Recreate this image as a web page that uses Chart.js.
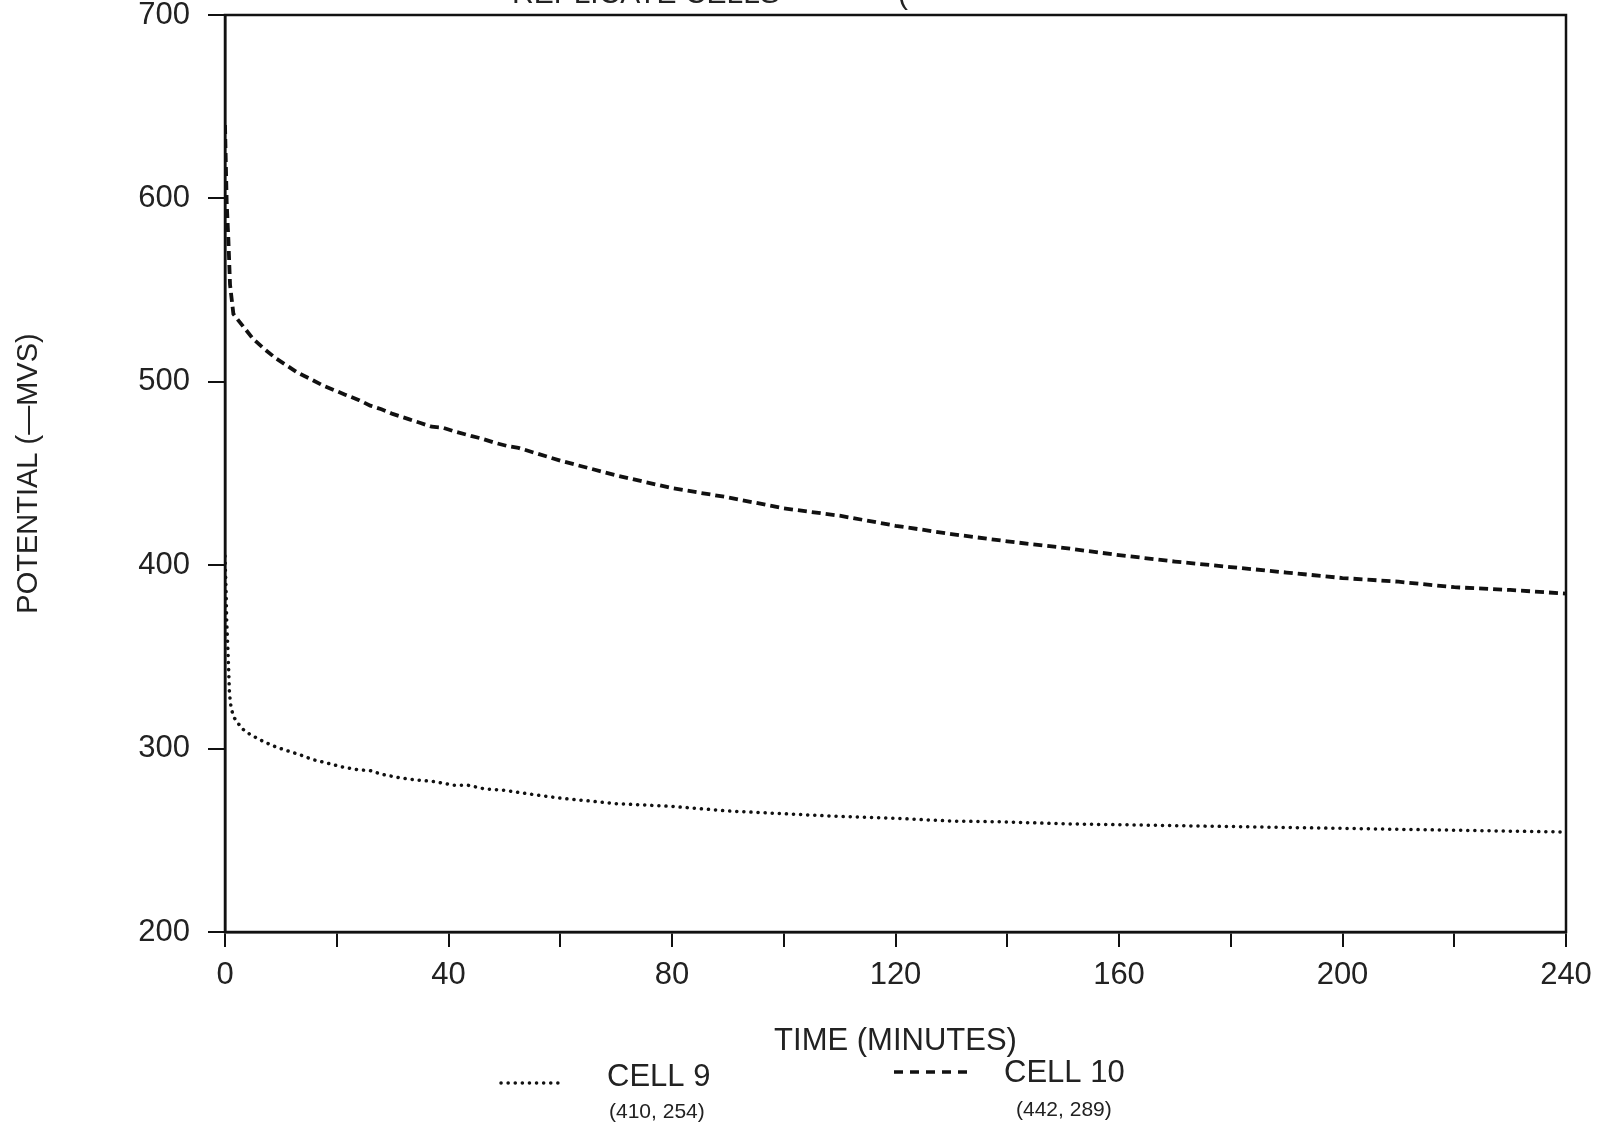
<!DOCTYPE html>
<html>
<head>
<meta charset="utf-8">
<script src="https://cdn.jsdelivr.net/npm/chart.js@4/dist/chart.umd.min.js"></script>
<style>
    html, body { margin: 0; padding: 0; background: #fff; }
    #wrap { width: 1606px; height: 1130px; }
</style>
</head>
<body>
<div id="wrap"><canvas id="potentialChart"></canvas></div>
<script>
// values (minutes, -mV)
const cell9Time = [0, 0.2, 0.3, 0.45, 0.6, 0.8, 1.1, 1.6, 3, 4.6, 6.8, 9, 11, 13.5, 15.7, 17.8, 21, 23.7, 26, 28, 31.4, 34, 37.5, 41, 43.5, 46.5, 50, 55, 60, 70, 80, 90, 100, 110, 120, 130, 140, 150, 160, 170, 180, 190, 200, 210, 220, 230, 240];
const cell9Potential = [405, 385, 370, 359, 348, 330, 322, 317, 311, 307.5, 304, 301, 299, 296.5, 294, 292.5, 290, 288.5, 288, 286, 284, 283, 282, 280, 280, 278, 277.3, 275, 273, 270, 268.5, 266, 264.5, 263, 262, 260.5, 260, 259, 258.5, 258, 257.5, 257, 256.5, 256, 255.5, 255, 254.5];

const cell10Time = [0, 0.3, 0.6, 0.9, 1.5, 2, 3.3, 5, 7, 9, 11, 13, 15, 17.5, 19.5, 21.5, 24, 26, 28, 30, 33, 35, 37, 39, 41, 44, 46, 48, 50.5, 52.5, 60, 70, 80, 90, 100, 110, 120, 130, 140, 150, 160, 170, 180, 190, 200, 210, 220, 230, 240];
const cell10Potential = [640, 598, 578, 553, 537, 535, 530, 523.5, 518, 513, 509, 505, 502, 498, 495.5, 493, 490, 487, 485, 482.5, 479.5, 477.5, 475.5, 475, 473, 470.5, 469, 467, 465, 464, 457, 449, 442, 437, 431, 427, 421.5, 417, 413, 409.5, 405.5, 402, 399, 396, 393, 391, 388, 386.5, 384.5];

const seriesNames = ['CELL 9', 'CELL 10'];
const seriesNotes = ['(410, 254)', '(442, 289)'];
const xTitle = 'TIME (MINUTES)';
const yTitle = 'POTENTIAL (\u2014MVS)';
const headTitle = 'REPLICATE CELLS';

const ink = '#111';
const textInk = '#222';
const labelFont = '"Liberation Sans", sans-serif';

function toPoints(xs, ys) {
    return xs.map((x, i) => ({ x: x, y: ys[i] }));
}

// frame, cut-off heading and the legend under the axis title
const extras = {
    id: 'extras',
    afterDraw(chart) {
        const ctx = chart.ctx;
        const a = chart.chartArea;
        ctx.save();
        ctx.strokeStyle = ink;
        ctx.lineWidth = 2.5;
        ctx.strokeRect(a.left, a.top, a.right - a.left, a.bottom - a.top);

        ctx.fillStyle = textInk;
        ctx.font = '30px ' + labelFont;
        ctx.textBaseline = 'alphabetic';
        ctx.fillText(headTitle, 512, 3);
        ctx.fillText('(', 898, 4);

        // legend samples
        ctx.strokeStyle = ink;
        ctx.lineWidth = 3.5;
        ctx.lineCap = 'round';
        ctx.setLineDash([0.1, 7]);
        ctx.beginPath();
        ctx.moveTo(501, 1083);
        ctx.lineTo(563, 1083);
        ctx.stroke();

        ctx.lineCap = 'butt';
        ctx.lineWidth = 3.5;
        ctx.setLineDash([9, 7]);
        ctx.beginPath();
        ctx.moveTo(894, 1072);
        ctx.lineTo(970, 1072);
        ctx.stroke();
        ctx.setLineDash([]);

        ctx.textBaseline = 'middle';
        ctx.font = '31px ' + labelFont;
        ctx.fillText(seriesNames[0], 607, 1077);
        ctx.fillText(seriesNames[1], 1004, 1073);
        ctx.font = '21px ' + labelFont;
        ctx.fillText(seriesNotes[0], 609, 1112);
        ctx.fillText(seriesNotes[1], 1016, 1110);
        ctx.restore();
    }
};

const ctx = document.getElementById('potentialChart').getContext('2d');
new Chart(ctx, {
    type: 'line',
    data: {
        datasets: [
            {
                label: seriesNames[0],
                data: toPoints(cell9Time, cell9Potential),
                borderColor: ink,
                borderWidth: 3.5,
                borderDash: [0.1, 7],
                borderCapStyle: 'round',
                pointRadius: 0,
                tension: 0,
                fill: false
            },
            {
                label: seriesNames[1],
                data: toPoints(cell10Time, cell10Potential),
                borderColor: ink,
                borderWidth: 3.8,
                borderDash: [9, 5],
                borderCapStyle: 'butt',
                pointRadius: 0,
                tension: 0,
                fill: false
            }
        ]
    },
    options: {
        responsive: true,
        maintainAspectRatio: false,
        animation: false,
        layout: { padding: { top: 15, right: 40, left: 0, bottom: 0 } },
        plugins: {
            legend: { display: false },
            tooltip: { enabled: false }
        },
        scales: {
            x: {
                type: 'linear',
                min: 0,
                max: 240,
                afterFit: scale => { scale.height = 198; },
                border: { display: true, color: ink, width: 2.5 },
                grid: { drawOnChartArea: false, drawTicks: true, tickLength: 15, color: ink, lineWidth: 2 },
                ticks: {
                    stepSize: 20,
                    autoSkip: false,
                    maxRotation: 0,
                    padding: 10,
                    color: textInk,
                    font: { family: labelFont, size: 31 },
                    callback: v => (v % 40 === 0 ? v : '')
                },
                title: {
                    display: true,
                    text: xTitle,
                    color: textInk,
                    font: { family: labelFont, size: 31 },
                    padding: { top: 0, bottom: 70 }
                }
            },
            y: {
                min: 200,
                max: 700,
                afterFit: scale => {
                    scale.width = 225;
                    scale.paddingTop = 0;
                    scale.paddingBottom = 0;
                },
                border: { display: true, color: ink, width: 2.5 },
                grid: { drawOnChartArea: false, drawTicks: true, tickLength: 17, color: ink, lineWidth: 2 },
                ticks: {
                    stepSize: 100,
                    padding: 18,
                    color: textInk,
                    font: { family: labelFont, size: 31 }
                },
                title: {
                    display: true,
                    text: yTitle,
                    color: textInk,
                    font: { family: labelFont, size: 29 },
                    padding: { top: 12, bottom: 0 }
                }
            }
        }
    },
    plugins: [extras]
});
</script>
</body>
</html>
